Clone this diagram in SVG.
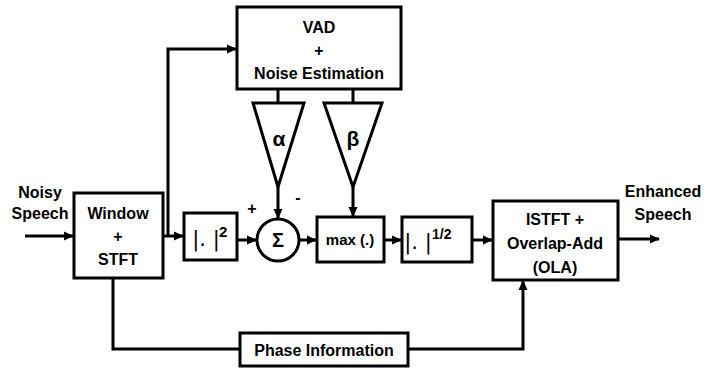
<svg xmlns="http://www.w3.org/2000/svg" width="720" height="368" viewBox="0 0 720 368">
<style>
.box{fill:#fff;stroke:#000;stroke-width:3}
.ln{fill:none;stroke:#000;stroke-width:3}
.t{font-family:"Liberation Sans",Arial,sans-serif;font-weight:bold;font-size:16px;text-anchor:middle;fill:#000}
.m{font-family:"DejaVu Sans","Liberation Sans",sans-serif;font-size:21px;text-anchor:middle;fill:#000}
.s{font-family:"Liberation Sans",Arial,sans-serif;font-weight:bold;font-size:15px;text-anchor:start;fill:#000}
</style>
<defs>
<marker id="ah" markerWidth="10" markerHeight="10" refX="9" refY="5" orient="auto" markerUnits="userSpaceOnUse">
<path d="M0,0.5 L10,5 L0,9.5 Z" fill="#000"/>
</marker>
</defs>
<rect width="720" height="368" fill="#fff"/>
<g id="connectors">
<path class="ln" d="M25,236 H73" marker-end="url(#ah)"/>
<path class="ln" d="M163,236 H183" marker-end="url(#ah)"/>
<path class="ln" d="M168,236 V49 H236" marker-end="url(#ah)"/>
<path class="ln" d="M237,240 H256" marker-end="url(#ah)"/>
<path class="ln" d="M299,240 H316" marker-end="url(#ah)"/>
<path class="ln" d="M384,240 H401" marker-end="url(#ah)"/>
<path class="ln" d="M472,240 H492" marker-end="url(#ah)"/>
<path class="ln" d="M618,239 H659" marker-end="url(#ah)"/>
<path class="ln" d="M278,89 V103"/>
<path class="ln" d="M353,89 V103"/>
<path class="ln" d="M278,187 V218" marker-end="url(#ah)"/>
<path class="ln" d="M353,187 V216" marker-end="url(#ah)"/>
<path class="ln" d="M113,278 V349 H240"/>
<path class="ln" d="M408,349 H523 V281" marker-end="url(#ah)"/>
</g>
<g id="input-label">
<text class="t" x="40" y="198">Noisy</text>
<text class="t" x="40" y="219">Speech</text>
</g>
<g id="window">
<rect class="box" x="74" y="193" width="89" height="85"/>
<text class="t" x="118" y="219">Window</text>
<text class="t" x="118" y="242">+</text>
<text class="t" x="118" y="265">STFT</text>
</g>
<g id="vad">
<rect class="box" x="237" y="7" width="164" height="82"/>
<text class="t" x="319" y="33">VAD</text>
<text class="t" x="319" y="56">+</text>
<text class="t" x="319" y="79">Noise Estimation</text>
</g>
<g id="alpha">
<path class="box" d="M253,103 L304,103 L278,187 Z"/>
<text class="t" x="279" y="146" style="font-size:21px">α</text>
</g>
<g id="beta">
<path class="box" d="M324,103 L382,103 L353,187 Z"/>
<text class="t" x="353" y="146" style="font-size:21px">β</text>
</g>
<g id="square">
<rect class="box" x="184" y="213" width="53" height="47"/>
<text class="m" x="206" y="246">|. |</text>
<text class="s" x="219" y="237">2</text>
</g>
<g id="sum">
<circle class="box" cx="278" cy="240" r="21"/>
<text class="t" x="278" y="247" style="font-size:20px">Σ</text>
<text class="t" x="252" y="214">+</text>
<text class="t" x="298" y="203">-</text>
</g>
<g id="max">
<rect class="box" x="317" y="217" width="67" height="45"/>
<text class="t" x="350" y="245" style="font-size:15px">max (.)</text>
</g>
<g id="sqrt">
<rect class="box" x="402" y="217" width="70" height="45"/>
<text class="m" x="418" y="249">|. |</text>
<text class="s" x="432" y="239" style="font-size:14px">1/2</text>
</g>
<g id="istft">
<rect class="box" x="493" y="201" width="125" height="79"/>
<text class="t" x="555" y="225">ISTFT +</text>
<text class="t" x="555" y="249">Overlap-Add</text>
<text class="t" x="555" y="273">(OLA)</text>
</g>
<g id="output-label">
<text class="t" x="663" y="197">Enhanced</text>
<text class="t" x="663" y="220">Speech</text>
</g>
<g id="phase">
<rect class="box" x="240" y="333" width="168" height="33"/>
<text class="t" x="324" y="356">Phase Information</text>
</g>
</svg>
